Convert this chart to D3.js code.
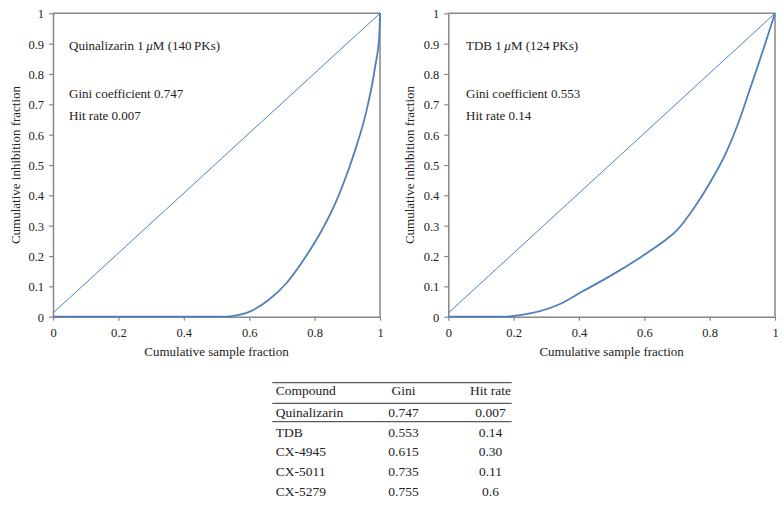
<!DOCTYPE html>
<html>
<head>
<meta charset="utf-8">
<script src="https://cdn.jsdelivr.net/npm/d3@7"></script>
<style>
  html, body { margin: 0; padding: 0; background: #fff; }
  svg text { font-family: "Liberation Serif", "DejaVu Serif", serif; fill: #222; }
</style>
</head>
<body>
<svg id="chart" width="784" height="511"></svg>
<script>
// ---- Data ----
const xTickValues = [0, 0.2, 0.4, 0.6, 0.8, 1];
const xTickLabels = ["0", "0.2", "0.4", "0.6", "0.8", "1"];
const yTickValues = [0, 0.1, 0.2, 0.3, 0.4, 0.5, 0.6, 0.7, 0.8, 0.9, 1];
const yTickLabels = ["0", "0.1", "0.2", "0.3", "0.4", "0.5", "0.6", "0.7", "0.8", "0.9", "1"];

// Equality (diagonal) line
const diagX = [0, 1];
const diagY = [0.012, 1];

// Quinalizarin Lorenz curve
const quinX = [0, 0.53, 0.56, 0.60, 0.66, 0.715, 0.766, 0.817, 0.868, 0.898, 0.924, 0.959, 0.985, 0.998, 1];
const quinY = [0, 0, 0.004, 0.016, 0.056, 0.112, 0.187, 0.275, 0.385, 0.468, 0.549, 0.68, 0.823, 0.93, 1];

// TDB Lorenz curve
const tdbX = [0, 0.17, 0.22, 0.34, 0.41, 0.50, 0.59, 0.65, 0.70, 0.75, 0.80, 0.85, 0.89, 0.92, 0.95, 0.97, 1];
const tdbY = [0, 0, 0.005, 0.041, 0.083, 0.137, 0.197, 0.241, 0.285, 0.355, 0.44, 0.54, 0.645, 0.74, 0.835, 0.9, 1];

// Panel annotations
const panelTitles = ["Quinalizarin", "TDB"];
const panelCounts = ["140", "124"];
const panelGini = ["0.747", "0.553"];
const panelHit = ["0.007", "0.14"];

// Table
const tableHeaders = ["Compound", "Gini", "Hit rate"];
const compounds = ["Quinalizarin", "TDB", "CX-4945", "CX-5011", "CX-5279"];
const giniValues = ["0.747", "0.553", "0.615", "0.735", "0.755"];
const hitRates = ["0.007", "0.14", "0.30", "0.11", "0.6"];

// ---- Drawing ----
const svg = d3.select("#chart");
const lineColor = "#4f81bd";
const axisColor = "#868686";

const panels = [
  { x0: 53, x1: 380, titleX: 15, annX: 69, cx: quinX, cy: quinY },
  { x0: 448.3, x1: 775, titleX: 409, annX: 466, cx: tdbX, cy: tdbY }
];
const yTop = 13.3, yBot = 316.7;

panels.forEach((p, i) => {
  const x = d3.scaleLinear().domain([0, 1]).range([p.x0, p.x1]);
  const y = d3.scaleLinear().domain([0, 1]).range([yBot, yTop]);
  const g = svg.append("g");

  // frame (top & right)
  g.append("path")
    .attr("d", `M${x(0)},${y(1)}H${x(1)}V${y(0)}`)
    .attr("fill", "none").attr("stroke", axisColor).attr("stroke-width", 1.5);

  // axes
  const xAxis = d3.axisBottom(x).tickValues(xTickValues)
    .tickFormat((d, k) => xTickLabels[k]).tickSize(4).tickSizeOuter(0);
  const yAxis = d3.axisLeft(y).tickValues(yTickValues)
    .tickFormat((d, k) => yTickLabels[k]).tickSize(4).tickSizeOuter(0);

  const gx = g.append("g").attr("transform", `translate(0,${yBot})`).call(xAxis);
  const gy = g.append("g").attr("transform", `translate(${p.x0},0)`).call(yAxis);
  [gx, gy].forEach(a => {
    a.select(".domain").attr("stroke", axisColor).attr("stroke-width", 1.5);
    a.selectAll(".tick line").attr("stroke", axisColor).attr("stroke-width", 1.2);
    a.selectAll(".tick text")
      .attr("font-size", 12.5).attr("fill", "#222");
  });
  gx.selectAll(".tick text").attr("dy", null).attr("y", 20);
  gy.selectAll(".tick text").attr("x", -9).attr("dy", "0.35em");

  // axis titles
  g.append("text")
    .attr("x", (p.x0 + p.x1) / 2).attr("y", 355.5)
    .attr("text-anchor", "middle").attr("font-size", 13)
    .text("Cumulative sample fraction");
  g.append("text")
    .attr("transform", `translate(${p.titleX + 4.5},${(yTop + yBot) / 2}) rotate(-90)`)
    .attr("text-anchor", "middle").attr("font-size", 13)
    .text("Cumulative inhibition fraction");

  // diagonal
  const line = d3.line().x(d => x(d[0])).y(d => y(d[1]));
  g.append("path")
    .datum(diagX.map((v, k) => [v, diagY[k]]))
    .attr("d", line).attr("fill", "none")
    .attr("stroke", lineColor).attr("stroke-width", 1);

  // Lorenz curve
  g.append("path")
    .datum(p.cx.map((v, k) => [v, p.cy[k]]))
    .attr("d", d3.line().x(d => x(d[0])).y(d => y(d[1])).curve(d3.curveMonotoneX))
    .attr("fill", "none")
    .attr("stroke", lineColor).attr("stroke-width", 1.8);

  // annotations
  const t1 = g.append("text").attr("x", p.annX).attr("y", 49.5).attr("font-size", 13);
  t1.append("tspan").text(panelTitles[i] + " 1\u2009");
  t1.append("tspan").attr("font-style", "italic").text("\u03BC");
  t1.append("tspan").text("M (" + panelCounts[i] + "\u2009PKs)");
  g.append("text").attr("x", p.annX).attr("y", 98).attr("font-size", 13)
    .text("Gini coefficient " + panelGini[i]);
  g.append("text").attr("x", p.annX).attr("y", 119.5).attr("font-size", 13)
    .text("Hit rate " + panelHit[i]);
});

// ---- Table ----
const tbl = svg.append("g");
const tLeft = 272.3, tRight = 511.7;
const colX = [275.7, 403.5, 490.5];
const colAnchor = ["start", "middle", "middle"];
const rowY = d3.scalePoint().domain(d3.range(compounds.length)).range([412.7, 491]);
const ruleColor = "#333";
[382.7, 403.3, 421.7].forEach(yy => {
  tbl.append("line").attr("x1", tLeft).attr("x2", tRight)
    .attr("y1", yy).attr("y2", yy)
    .attr("stroke", ruleColor).attr("stroke-width", 1);
});
tableHeaders.forEach((h, c) => {
  tbl.append("text").attr("x", colX[c]).attr("y", 394.5)
    .attr("text-anchor", colAnchor[c]).attr("font-size", 13.5).text(h);
});
const cols = [compounds, giniValues, hitRates];
compounds.forEach((_, r) => {
  cols.forEach((col, c) => {
    tbl.append("text").attr("x", colX[c]).attr("y", rowY(r) + 4.5)
      .attr("text-anchor", colAnchor[c]).attr("font-size", 13.5).text(col[r]);
  });
});
</script>
</body>
</html>
